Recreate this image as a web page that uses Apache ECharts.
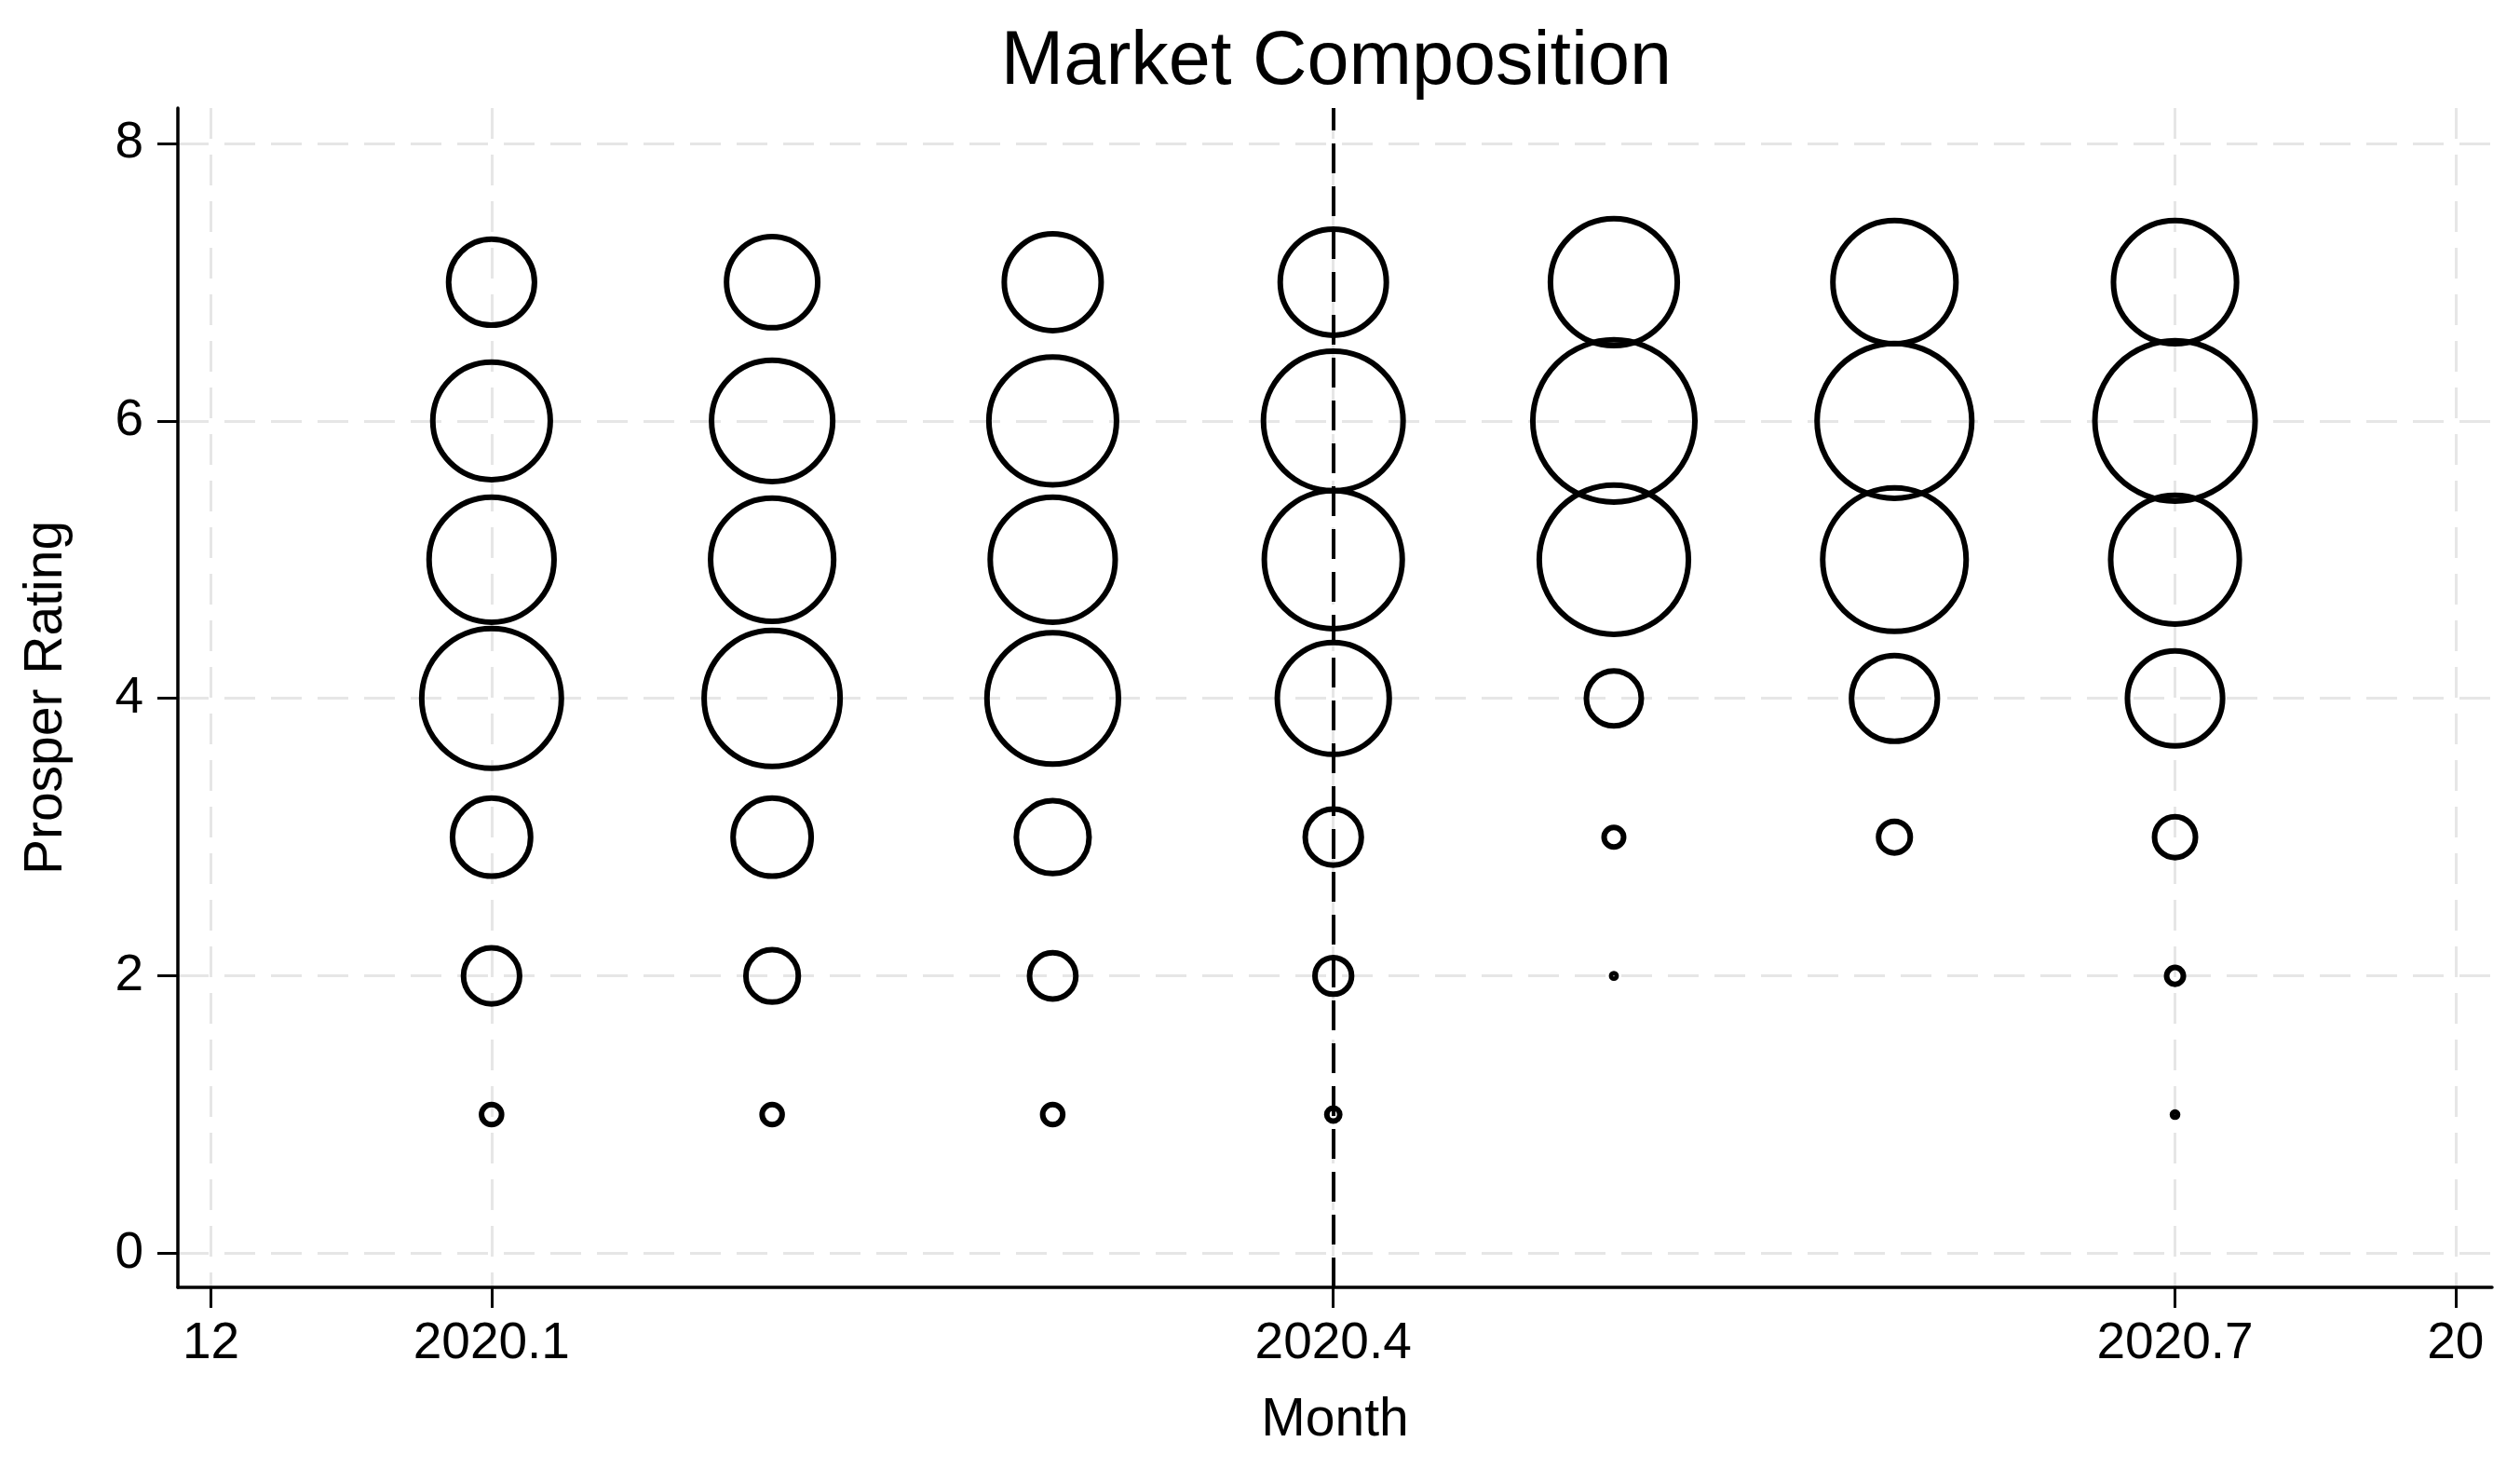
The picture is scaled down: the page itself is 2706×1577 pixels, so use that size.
<!DOCTYPE html>
<html>
<head>
<meta charset="utf-8">
<script src="https://cdn.jsdelivr.net/npm/echarts@6/dist/echarts.min.js"></script>
<style>
html,body{margin:0;padding:0;background:#fff;}
#chart{width:2706px;height:1577px;}
</style>
</head>
<body>
<div id="chart"></div>
<script>
// Month index: 0 = 2019.12, 1 = 2020.1 ... 8 = 2020.8
const monthIdx = [1, 2, 3, 4, 5, 6, 7];
const ratings = [1, 2, 3, 4, 5, 6, 7];
const xTickValues = [0, 1, 4, 7, 8];
const xTickLabels = ['12', '2020.1', '2020.4', '2020.7', '20'];
const yTickValues = [0, 2, 4, 6, 8];
const eventMonth = 4;

// Share of loans (%) by Prosper rating 1..7 for each month (null = none)
const share2020_1 = [0.6, 4.7, 9.1, 29.1, 23.3, 20.6, 11.0];
const share2020_2 = [0.6, 4.1, 9.1, 27.6, 22.6, 21.9, 12.4];
const share2020_3 = [0.6, 3.2, 7.9, 25.8, 23.3, 24.3, 14.0];
const share2020_4 = [0.25, 2.0, 4.7, 18.7, 28.4, 29.1, 16.8];
const share2020_5 = [null, 0.03, 0.57, 4.5, 33.2, 39.2, 24.0];
const share2020_6 = [null, null, 1.5, 11.0, 30.7, 35.7, 22.6];
const share2020_7 = [0.04, 0.42, 2.5, 13.5, 24.7, 38.3, 22.6];

const shareByMonth = [share2020_1, share2020_2, share2020_3, share2020_4, share2020_5, share2020_6, share2020_7];
const points = [];
monthIdx.forEach((m, i) => {
  ratings.forEach((r, j) => {
    const s = shareByMonth[i][j];
    if (s !== null && s !== undefined) points.push([m, r, s]);
  });
});

const FONT = 'Liberation Sans, Arial, Helvetica, sans-serif';
const chart = echarts.init(document.getElementById('chart'));
chart.setOption({
  animation: false,
  backgroundColor: '#ffffff',
  title: {
    text: 'Market Composition',
    left: 1430,
    textAlign: 'center',
    top: 22,
    textStyle: { fontFamily: FONT, fontSize: 81, fontWeight: 'normal', color: '#000' }
  },
  grid: { left: 191, right: 30, top: 116, bottom: 195, containLabel: false },
  xAxis: {
    type: 'value',
    min: -0.118,
    max: 8.13,
    name: 'Month',
    nameLocation: 'middle',
    nameGap: 115,
    nameTextStyle: { fontFamily: FONT, fontSize: 57, color: '#000' },
    axisLine: { show: true, onZero: false, lineStyle: { color: '#000', width: 3.5 } },
    axisTick: { show: true, length: 22, customValues: xTickValues, lineStyle: { color: '#000', width: 3 } },
    axisLabel: {
      customValues: xTickValues,
      margin: 33,
      fontFamily: FONT, fontSize: 55, color: '#000',
      formatter: v => { const k = xTickValues.indexOf(v); return k >= 0 ? xTickLabels[k] : ''; }
    },
    splitLine: { show: true, lineStyle: { color: '#e6e6e6', width: 3, type: [33, 17] } }
  },
  yAxis: {
    type: 'value',
    min: -0.245,
    max: 8.255,
    name: 'Prosper Rating',
    nameLocation: 'middle',
    nameGap: 112,
    nameTextStyle: { fontFamily: FONT, fontSize: 57, color: '#000' },
    axisLine: { show: true, onZero: false, lineStyle: { color: '#000', width: 3.5 } },
    axisTick: { show: true, length: 22, customValues: yTickValues, lineStyle: { color: '#000', width: 3 } },
    axisLabel: { customValues: yTickValues, margin: 37, fontFamily: FONT, fontSize: 55, color: '#000' },
    splitLine: { show: true, lineStyle: { color: '#e6e6e6', width: 3, type: [33, 17] } }
  },
  series: [{
    type: 'scatter',
    data: points,
    symbol: 'circle',
    symbolSize: d => 27.8 * Math.sqrt(d[2]),
    itemStyle: { color: 'rgba(0,0,0,0)', borderColor: '#000', borderWidth: 6, opacity: 1 },
    emphasis: { disabled: true },
    silent: true,
    z: 3,
    markLine: {
      silent: true,
      symbol: ['none', 'none'],
      label: { show: false },
      lineStyle: { color: '#000', width: 4, type: [32, 14], opacity: 1 },
      data: [{ xAxis: eventMonth }],
      z: 4
    }
  }]
});
</script>
</body>
</html>
